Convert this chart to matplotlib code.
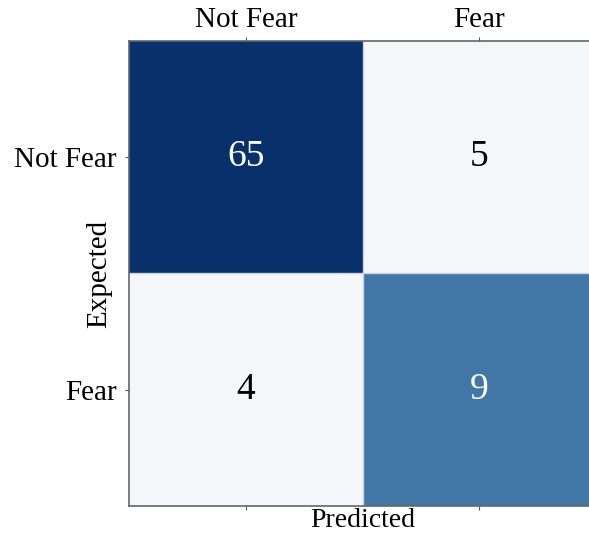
import numpy as np
import matplotlib
matplotlib.use("Agg")
import matplotlib.pyplot as plt
from matplotlib.colors import ListedColormap, BoundaryNorm

# confusion matrix data
labels = ["Not Fear", "Fear"]
counts = [[65, 5],
          [4, 9]]

plt.rcParams['font.family'] = ['Liberation Serif', 'DejaVu Serif']

cm = np.array(counts)
cmap = ListedColormap(["#f5f6fa", "#4177a6", "#08306b"])
norm = BoundaryNorm([0, 6, 30, 100], cmap.N)

fig = plt.figure(figsize=(5.89, 5.34), dpi=100)
ax = fig.add_axes([0.219, 0.0524, 0.793, 0.871])
ax.imshow(cm, cmap=cmap, norm=norm, aspect='auto')

for i in range(cm.shape[0]):
    for j in range(cm.shape[1]):
        col = "white" if cm[i, j] > 6 else "black"
        ax.text(j, i, str(cm[i, j]), ha='center', va='center', fontsize=27, color=col)

ax.set_xticks(range(len(labels)))
ax.set_yticks(range(len(labels)))
ax.xaxis.tick_top()
ax.tick_params(axis='x', which='both', top=True, bottom=True, labeltop=True, labelbottom=False,
               length=3, color='#555555', labelsize=21, pad=3)
ax.tick_params(axis='y', length=3, color='#555555', labelsize=21, pad=6)
ax.set_xticklabels(labels)
ax.set_yticklabels(labels)

# light lines between cells
ax.set_xticks([0.5], minor=True)
ax.set_yticks([0.5], minor=True)
ax.tick_params(which='minor', length=0)
ax.grid(which='minor', color='#c9d3e3', linewidth=1)

ax.set_xlabel("Predicted", fontsize=20)
ax.xaxis.set_label_position('bottom')
ax.xaxis.set_label_coords(0.5, -0.004)
ax.set_ylabel("Expected", fontsize=21)
ax.yaxis.set_label_coords(-0.035, 0.5)

for s in ax.spines.values():
    s.set_color('#666666')
    s.set_linewidth(1.2)
ax.spines['right'].set_visible(False)

fig.savefig("out.png", dpi=100)
